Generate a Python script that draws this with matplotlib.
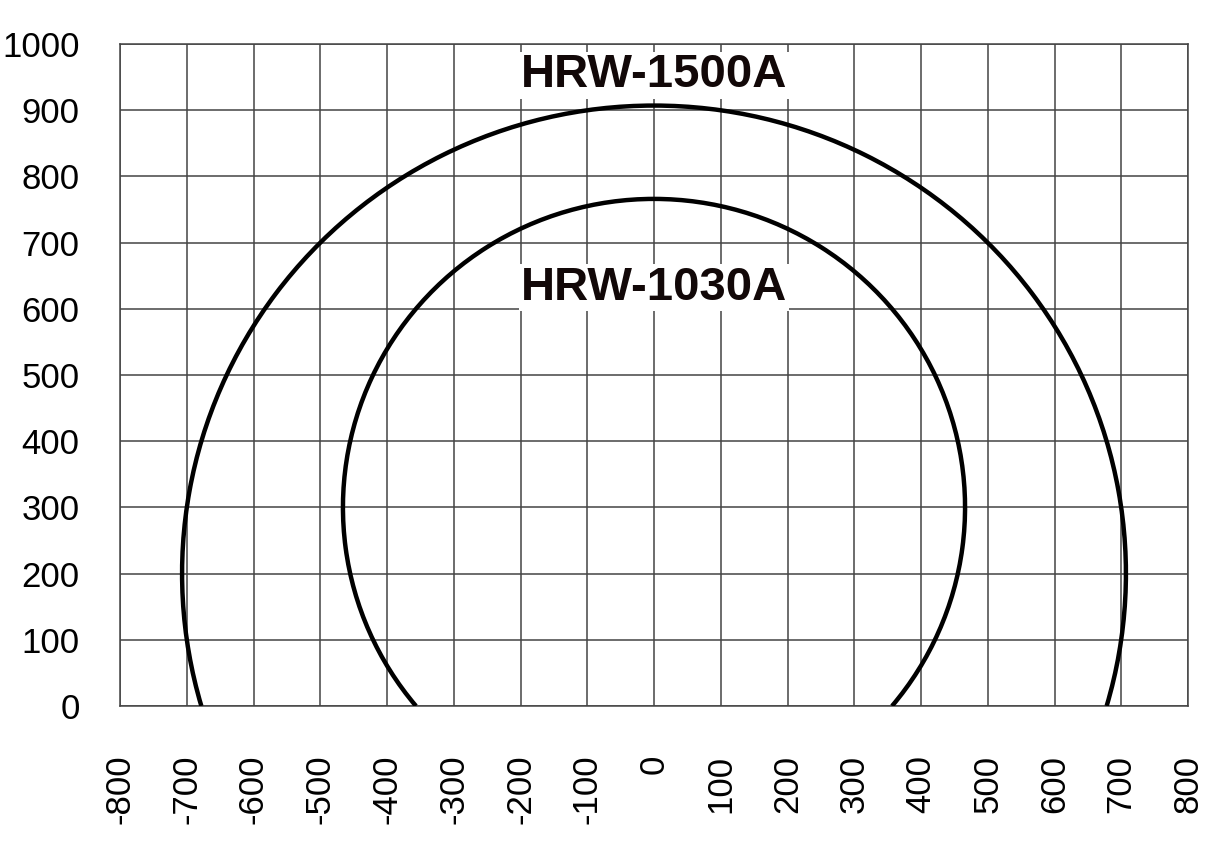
import numpy as np
import matplotlib.pyplot as plt
from matplotlib.patches import Arc

plt.rcParams['font.family'] = ['Liberation Sans', 'DejaVu Sans']

# 曲线数据（从图上读取：圆心 y、半径）
models = ["HRW-1500A", "HRW-1030A"]
center_y = [200, 300]
radius = [707, 466]
label_y = [953, 632]

x_ticks = list(range(-800, 801, 100))
y_ticks = list(range(0, 1001, 100))

fig = plt.figure(figsize=(12.32, 8.64), dpi=100)
ax = fig.add_axes([120 / 1232, 1 - 706 / 864, 1068 / 1232, 662 / 864])

ax.set_xlim(-800, 800)
ax.set_ylim(0, 1000)
ax.set_xticks(x_ticks)
ax.set_yticks(y_ticks)
ax.set_xticklabels([str(v) for v in x_ticks], rotation=90, va="top")
ax.tick_params(axis="x", length=0, pad=35, labelsize=25)
ax.tick_params(axis="y", length=0, pad=29, labelsize=25)
ax.grid(True, color="#444444", linewidth=1.1)
for s in ax.spines.values():
    s.set_color("#444444")
    s.set_linewidth(1.1)

for name, cy, r, ly in zip(models, center_y, radius, label_y):
    # 在 y=0 处截断
    a = np.degrees(np.arcsin(cy / r))
    ax.add_patch(Arc((0, cy), 2 * r, 2 * r, theta1=-a, theta2=180 + a,
                     color="black", linewidth=3.2, capstyle="butt", zorder=3))
    ax.text(0, ly, name, ha="center", va="center", fontsize=34, fontweight="bold",
            color="#120808", zorder=4,
            bbox=dict(facecolor="white", edgecolor="none", pad=1))

fig.savefig("out.png", dpi=100)
